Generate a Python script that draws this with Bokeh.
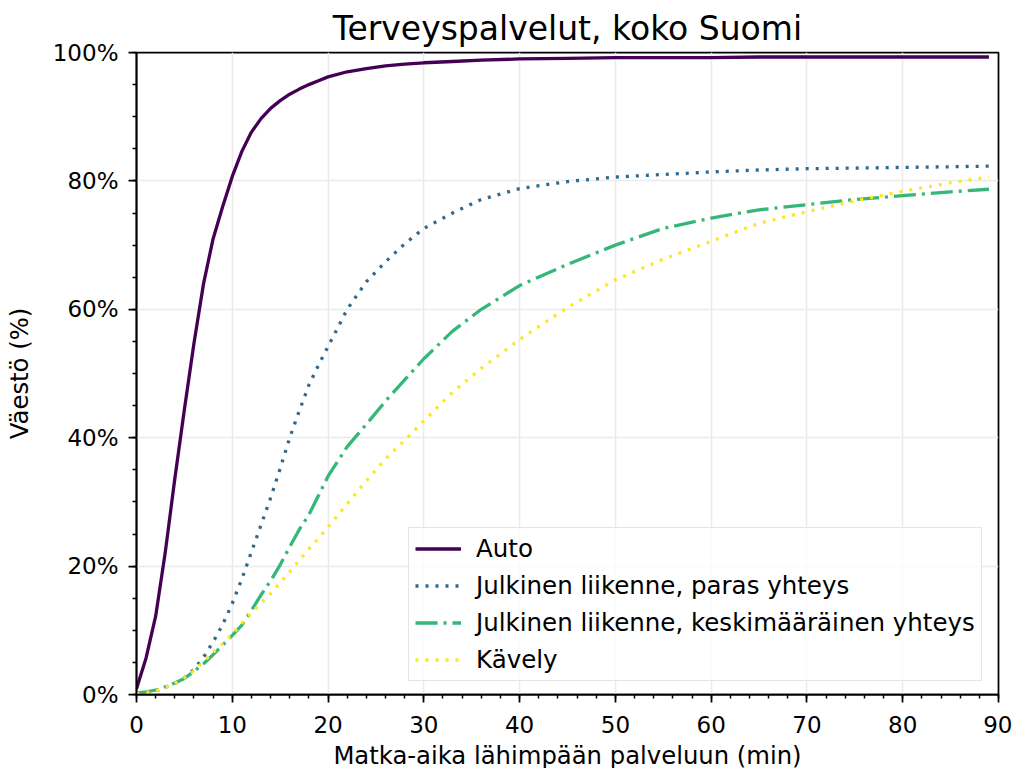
from bokeh.plotting import figure
from bokeh.models import FixedTicker, PrintfTickFormatter, Legend, LegendItem, Range1d
from bokeh.embed import file_html
from bokeh.resources import INLINE

# travel time (min)
minutes = [0, 1, 2, 3, 4, 5, 6, 7, 8, 9, 10, 11, 12, 13, 14, 15, 16, 17, 18, 19, 20,
           22, 24, 26, 28, 30, 33, 36, 40, 45, 50, 55, 60, 65, 70, 75, 80, 85, 89]

auto = [0.9, 5.7, 12.2, 22.1, 33.6, 44.4, 54.7, 64.0, 71.0, 76.0, 80.7, 84.6, 87.6, 89.7, 91.3,
        92.5, 93.5, 94.3, 95.0, 95.6, 96.2, 97.0, 97.5, 97.9, 98.2, 98.4, 98.6, 98.8, 99.0, 99.1,
        99.2, 99.2, 99.2, 99.3, 99.3, 99.3, 99.3, 99.3, 99.3]

jl_paras = [0.1, 0.3, 0.6, 1.1, 1.7, 2.6, 3.9, 5.8, 8.2, 10.9, 14.2, 18.0, 22.2, 26.4, 30.6,
            35.2, 40.0, 44.2, 48.2, 51.3, 54.2, 60.0, 64.3, 67.4, 70.2, 72.6, 75.0, 77.1, 78.8,
            79.9, 80.6, 81.0, 81.4, 81.7, 81.9, 82.0, 82.1, 82.2, 82.3]

jl_keski = [0.2, 0.4, 0.7, 1.2, 1.8, 2.5, 3.6, 4.8, 6.2, 7.7, 9.2, 10.8, 13.1, 15.5, 17.7,
            20.2, 23.0, 25.7, 28.0, 31.0, 34.0, 38.6, 42.1, 45.7, 49.0, 52.3, 56.6, 60.0, 63.7,
            67.0, 70.0, 72.6, 74.2, 75.5, 76.3, 77.1, 77.7, 78.3, 78.7]

kavely = [0.1, 0.3, 0.6, 1.1, 1.7, 2.6, 3.7, 5.1, 6.6, 7.9, 9.4, 11.1, 12.7, 14.2, 15.7,
          17.4, 19.1, 20.9, 22.7, 24.3, 26.1, 29.7, 33.3, 36.7, 39.6, 42.6, 47.1, 50.8, 55.3,
          60.3, 64.6, 67.8, 70.6, 73.4, 75.2, 76.9, 78.4, 79.7, 80.6]

labels = ["Auto", "Julkinen liikenne, paras yhteys",
          "Julkinen liikenne, keskimääräinen yhteys", "Kävely"]
colors = ["#440154", "#31688e", "#35b779", "#fde725"]
dashes = ["solid", "3 7", "22 6 3 6", "3 7"]

x_ticks = [0, 10, 20, 30, 40, 50, 60, 70, 80, 90]
y_ticks = [0, 20, 40, 60, 80, 100]

FONT = "DejaVu Sans"

p = figure(frame_width=862, frame_height=642,
           x_range=Range1d(0, 90), y_range=Range1d(0, 100),
           output_backend="svg", toolbar_location=None,
           min_border_left=136, min_border_right=14,
           min_border_top=52, min_border_bottom=72,
           title="Terveyspalvelut, koko Suomi")

p.title.align = "center"
p.title.text_font = FONT
p.title.text_font_size = "33px"
p.title.text_font_style = "normal"
p.title.text_color = "black"

p.xaxis.ticker = FixedTicker(ticks=x_ticks, minor_ticks=list(range(0, 91, 2)))
p.yaxis.ticker = FixedTicker(ticks=y_ticks, minor_ticks=list(range(0, 101, 5)))
p.yaxis.formatter = PrintfTickFormatter(format="%d%%")

p.xaxis.axis_label = "Matka-aika lähimpään palveluun (min)"
p.yaxis.axis_label = "Väestö (%)"

for ax in (p.xaxis, p.yaxis):
    ax.axis_line_color = "black"
    ax.axis_line_width = 1.75
    ax.major_tick_line_color = "black"
    ax.minor_tick_line_color = "black"
    ax.major_tick_line_width = 1.75
    ax.minor_tick_line_width = 1.5
    ax.major_tick_out = 8
    ax.major_tick_in = 0
    ax.minor_tick_out = 4
    ax.minor_tick_in = 0
    ax.major_label_text_font = FONT
    ax.major_label_text_font_size = "23px"
    ax.major_label_text_color = "black"
    ax.axis_label_text_font = FONT
    ax.axis_label_text_font_size = "24.3px"
    ax.axis_label_text_font_style = "normal"
    ax.axis_label_text_color = "black"

p.xaxis.major_label_standoff = 13
p.yaxis.major_label_standoff = 10
p.xaxis.axis_label_standoff = 5
p.yaxis.axis_label_standoff = 16

p.xgrid.grid_line_color = "#ebebeb"
p.ygrid.grid_line_color = "#ebebeb"
p.xgrid.grid_line_width = 1.5
p.ygrid.grid_line_width = 1.5

p.outline_line_color = "black"
p.outline_line_width = 1.75

series = [auto, jl_paras, jl_keski, kavely]
items = []
for lab, ys, col, dash in zip(labels, series, colors, dashes):
    r = p.line(minutes, ys, line_color=col, line_width=3.3, line_dash=dash)
    items.append(LegendItem(label=lab, renderers=[r]))

legend = Legend(items=items, location=(272, 13))
legend.label_text_font = FONT
legend.label_text_font_size = "24.5px"
legend.label_text_color = "black"
legend.glyph_width = 46
legend.glyph_height = 29
legend.label_height = 29
legend.spacing = 8
legend.padding = 6
legend.margin = 0
legend.label_standoff = 15
legend.border_line_color = "#cccccc"
legend.border_line_width = 1.5
legend.background_fill_alpha = 0.8
p.add_layout(legend)

open("out.html", "w").write(file_html(p, INLINE))
